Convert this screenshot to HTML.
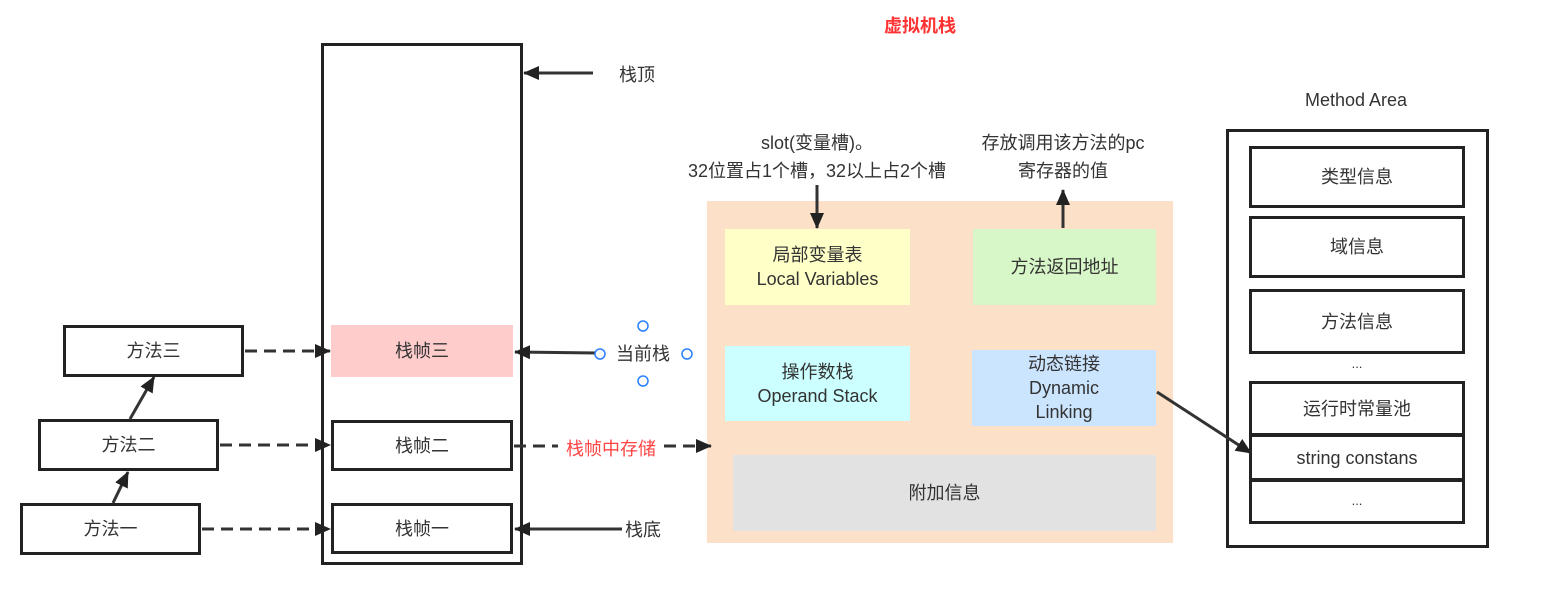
<!DOCTYPE html>
<html><head><meta charset="utf-8"><style>
body{margin:0;background:#fff;width:1548px;height:600px;overflow:hidden;position:relative;font-family:"Liberation Sans","Noto Sans CJK SC",sans-serif;color:#333}
.b{position:absolute;box-sizing:border-box;display:flex;align-items:center;justify-content:center;text-align:center;font-size:18px;line-height:24px}
.k{border:3px solid #222}
.t{position:absolute;font-size:18px;line-height:28px;text-align:center}
svg{position:absolute;left:0;top:0}
</style></head><body>
<div class="t" style="left:860px;top:12px;width:120px;color:#f33;font-weight:bold;font-size:18px">虚拟机栈</div>
<div class="b k" style="left:321px;top:43px;width:202px;height:522px"></div>
<div class="b" style="left:331px;top:325px;width:182px;height:52px;background:#ffcccc">栈帧三</div>
<div class="b k" style="left:331px;top:420px;width:182px;height:51px">栈帧二</div>
<div class="b k" style="left:331px;top:503px;width:182px;height:51px">栈帧一</div>
<div class="b k" style="left:63px;top:325px;width:181px;height:52px">方法三</div>
<div class="b k" style="left:38px;top:419px;width:181px;height:52px">方法二</div>
<div class="b k" style="left:20px;top:503px;width:181px;height:52px">方法一</div>
<div class="t" style="left:607px;top:61px;width:60px">栈顶</div>
<div class="t" style="left:607px;top:340px;width:72px">当前栈</div>
<div class="t" style="left:607px;top:516px;width:72px">栈底</div>
<div class="t" style="left:558px;top:435px;width:106px;color:#f44;background:#fff">栈帧中存储</div>
<div class="b" style="left:707px;top:201px;width:466px;height:342px;background:#fde0c8"></div>
<div class="b" style="left:725px;top:229px;width:185px;height:76px;background:#ffffc8">局部变量表<br>Local Variables</div>
<div class="b" style="left:973px;top:229px;width:183px;height:76px;background:#d8f7c8">方法返回地址</div>
<div class="b" style="left:725px;top:346px;width:185px;height:75px;background:#ccffff">操作数栈<br>Operand Stack</div>
<div class="b" style="left:972px;top:350px;width:184px;height:76px;background:#cce5ff">动态链接<br>Dynamic<br>Linking</div>
<div class="b" style="left:733px;top:455px;width:423px;height:76px;background:#e2e2e2">附加信息</div>
<div class="t" style="left:650px;top:129px;width:334px">slot(变量槽)。<br>32位置占1个槽，32以上占2个槽</div>
<div class="t" style="left:950px;top:129px;width:226px">存放调用该方法的pc<br>寄存器的值</div>
<div class="t" style="left:1270px;top:86px;width:172px">Method Area</div>
<div class="b k" style="left:1226px;top:129px;width:263px;height:419px"></div>
<div class="b k" style="left:1249px;top:146px;width:216px;height:62px">类型信息</div>
<div class="b k" style="left:1249px;top:216px;width:216px;height:62px">域信息</div>
<div class="b k" style="left:1249px;top:289px;width:216px;height:65px">方法信息</div>
<div class="t" style="left:1250px;top:350px;width:214px;font-size:13px">...</div>
<div class="b k" style="left:1249px;top:381px;width:216px;height:56px">运行时常量池</div>
<div class="b k" style="left:1249px;top:433px;width:216px;height:49px">string constans</div>
<div class="b k" style="left:1249px;top:478px;width:216px;height:46px;font-size:13px">...</div>
<svg width="1548" height="600">
<defs><marker id="c" markerWidth="16" markerHeight="14" refX="15" refY="7" orient="auto" markerUnits="userSpaceOnUse"><path d="M0,0 L16,7 L0,14 z" fill="#222"/></marker></defs>
<g stroke="#333" stroke-width="3" fill="none">
<line x1="593" y1="73" x2="524" y2="73" marker-end="url(#c)"/>
<line x1="597" y1="353" x2="515" y2="352" marker-end="url(#c)"/>
<line x1="622" y1="529" x2="515" y2="529" marker-end="url(#c)"/>
<line x1="113" y1="503" x2="128" y2="472" marker-end="url(#c)"/>
<line x1="130" y1="419" x2="154" y2="377" marker-end="url(#c)"/>
<line x1="817" y1="185" x2="817" y2="228" marker-end="url(#c)"/>
<line x1="1063" y1="228" x2="1063" y2="190" marker-end="url(#c)"/>
<line x1="1157" y1="392" x2="1251" y2="453" marker-end="url(#c)"/>
<g stroke-dasharray="12,7">
<line x1="245" y1="351" x2="330" y2="351" marker-end="url(#c)"/>
<line x1="220" y1="445" x2="330" y2="445" marker-end="url(#c)"/>
<line x1="202" y1="529" x2="330" y2="529" marker-end="url(#c)"/>
<line x1="514" y1="446" x2="558" y2="446"/>
<line x1="664" y1="446" x2="711" y2="446" marker-end="url(#c)"/>
</g></g>
<g stroke="#2a7fff" stroke-width="1.5" fill="#fff">
<circle cx="643" cy="326" r="5"/><circle cx="600" cy="354" r="5"/><circle cx="687" cy="354" r="5"/><circle cx="643" cy="381" r="5"/>
</g>
</svg>
</body></html>
